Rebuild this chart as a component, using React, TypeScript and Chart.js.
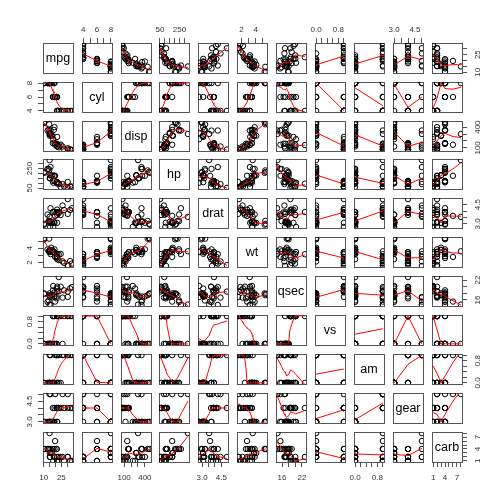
import React, { useEffect, useRef } from 'react';
import { Chart, registerables } from 'chart.js';
Chart.register(...registerables);

// mtcars columns
const mpg = [21.0, 21.0, 22.8, 21.4, 18.7, 18.1, 14.3, 24.4, 22.8, 19.2, 17.8, 16.4, 17.3, 15.2, 10.4, 10.4, 14.7, 32.4, 30.4, 33.9, 21.5, 15.5, 15.2, 13.3, 19.2, 27.3, 26.0, 30.4, 15.8, 19.7, 15.0, 21.4];
const cyl = [6, 6, 4, 6, 8, 6, 8, 4, 4, 6, 6, 8, 8, 8, 8, 8, 8, 4, 4, 4, 4, 8, 8, 8, 8, 4, 4, 4, 8, 6, 8, 4];
const disp = [160, 160, 108, 258, 360, 225, 360, 146.7, 140.8, 167.6, 167.6, 275.8, 275.8, 275.8, 472, 460, 440, 78.7, 75.7, 71.1, 120.1, 318, 304, 350, 400, 79, 120.3, 95.1, 351, 145, 301, 121];
const hp = [110, 110, 93, 110, 175, 105, 245, 62, 95, 123, 123, 180, 180, 180, 205, 215, 230, 66, 52, 65, 97, 150, 150, 245, 175, 66, 91, 113, 264, 175, 335, 109];
const drat = [3.90, 3.90, 3.85, 3.08, 3.15, 2.76, 3.21, 3.69, 3.92, 3.92, 3.92, 3.07, 3.07, 3.07, 2.93, 3.00, 3.23, 4.08, 4.93, 4.22, 3.70, 2.76, 3.15, 3.73, 3.08, 4.08, 4.43, 3.77, 4.22, 3.62, 3.54, 4.11];
const wt = [2.620, 2.875, 2.320, 3.215, 3.440, 3.460, 3.570, 3.190, 3.150, 3.440, 3.440, 4.070, 3.730, 3.780, 5.250, 5.424, 5.345, 2.200, 1.615, 1.835, 2.465, 3.520, 3.435, 3.840, 3.845, 1.935, 2.140, 1.513, 3.170, 2.770, 3.570, 2.780];
const qsec = [16.46, 17.02, 18.61, 19.44, 17.02, 20.22, 15.84, 20.00, 22.90, 18.30, 18.90, 17.40, 17.60, 18.00, 17.98, 17.82, 17.42, 19.47, 18.52, 19.90, 20.01, 16.87, 17.30, 15.41, 17.05, 18.90, 16.70, 16.90, 14.50, 15.50, 14.60, 18.60];
const vs = [0, 0, 1, 1, 0, 1, 0, 1, 1, 1, 1, 0, 0, 0, 0, 0, 0, 1, 1, 1, 1, 0, 0, 0, 0, 1, 0, 1, 0, 0, 0, 1];
const am = [1, 1, 1, 0, 0, 0, 0, 0, 0, 0, 0, 0, 0, 0, 0, 0, 0, 1, 1, 1, 0, 0, 0, 0, 0, 1, 1, 1, 1, 1, 1, 1];
const gear = [4, 4, 4, 3, 3, 3, 3, 4, 4, 4, 4, 3, 3, 3, 3, 3, 3, 4, 4, 4, 3, 3, 3, 3, 3, 4, 5, 5, 5, 5, 5, 4];
const carb = [4, 4, 1, 1, 2, 1, 4, 2, 2, 4, 4, 3, 3, 3, 4, 4, 4, 1, 2, 1, 1, 2, 2, 4, 2, 1, 2, 2, 4, 6, 8, 2];

const varNames = ['mpg', 'cyl', 'disp', 'hp', 'drat', 'wt', 'qsec', 'vs', 'am', 'gear', 'carb'];
const varValues = [mpg, cyl, disp, hp, drat, wt, qsec, vs, am, gear, carb];

// axis ticks and their printed labels
const mpgTicks = [10, 15, 20, 25, 30];
const mpgTickLabels = ['10', '', '', '25', ''];
const cylTicks = [4, 5, 6, 7, 8];
const cylTickLabels = ['4', '', '6', '', '8'];
const dispTicks = [100, 200, 300, 400];
const dispTickLabels = ['100', '', '', '400'];
const hpTicks = [50, 100, 150, 200, 250, 300];
const hpTickLabels = ['50', '', '', '', '250', ''];
const dratTicks = [3, 3.5, 4, 4.5];
const dratTickLabels = ['3.0', '', '', '4.5'];
const wtTicks = [2, 3, 4, 5];
const wtTickLabels = ['2', '', '4', ''];
const qsecTicks = [16, 18, 20, 22];
const qsecTickLabels = ['16', '', '', '22'];
const vsTicks = [0, 0.2, 0.4, 0.6, 0.8, 1];
const vsTickLabels = ['0.0', '', '', '', '0.8', ''];
const amTicks = [0, 0.2, 0.4, 0.6, 0.8, 1];
const amTickLabels = ['0.0', '', '', '', '0.8', ''];
const gearTicks = [3, 3.5, 4, 4.5, 5];
const gearTickLabels = ['3.0', '', '', '4.5', ''];
const carbTicks = [1, 2, 3, 4, 5, 6, 7, 8];
const carbTickLabels = ['1', '', '', '4', '', '', '7', ''];

const varTicks = [mpgTicks, cylTicks, dispTicks, hpTicks, dratTicks, wtTicks, qsecTicks, vsTicks, amTicks, gearTicks, carbTicks];
const varTickLabels = [mpgTickLabels, cylTickLabels, dispTickLabels, hpTickLabels, dratTickLabels, wtTickLabels, qsecTickLabels, vsTickLabels, amTickLabels, gearTickLabels, carbTickLabels];

const FONT = '"Liberation Sans", Arial, Helvetica, sans-serif';
const LINE = '#555';
const TEXT = '#333';
const M = 24; // canvas margin around each panel
const PANEL = 30;
const START = 42.7;
const STEP = 38.9;

// R's lowess (clowess port)
function lowess(xIn: number[], yIn: number[], f = 2 / 3, nsteps = 3) {
  const n = xIn.length;
  const idx = xIn.map((_, i) => i).sort((a, b) => xIn[a] - xIn[b] || a - b);
  const x = [0, ...idx.map((i) => xIn[i])];
  const y = [0, ...idx.map((i) => yIn[i])];
  const delta = 0.01 * (x[n] - x[1]);
  const ys = new Array(n + 1).fill(0);
  const rw = new Array(n + 1).fill(1);
  const w = new Array(n + 1).fill(0);
  const ns = Math.max(2, Math.min(n, Math.floor(f * n + 1e-7)));
  const range = x[n] - x[1];

  const lowest = (xs: number, nleft: number, nright: number, userw: boolean): [boolean, number] => {
    const h = Math.max(xs - x[nleft], x[nright] - xs);
    const h9 = 0.999 * h;
    const h1 = 0.001 * h;
    let a = 0;
    let j = nleft;
    while (j <= n) {
      w[j] = 0;
      const r = Math.abs(x[j] - xs);
      if (r <= h9) {
        if (r <= h1) w[j] = 1;
        else {
          const q = r / h;
          const t = 1 - q * q * q;
          w[j] = t * t * t;
        }
        if (userw) w[j] *= rw[j];
        a += w[j];
      } else if (x[j] > xs) break;
      j++;
    }
    const nrt = j - 1;
    if (a <= 0) return [false, 0];
    for (j = nleft; j <= nrt; j++) w[j] /= a;
    if (h > 0) {
      a = 0;
      for (j = nleft; j <= nrt; j++) a += w[j] * x[j];
      let b = xs - a;
      let c = 0;
      for (j = nleft; j <= nrt; j++) c += w[j] * (x[j] - a) * (x[j] - a);
      if (Math.sqrt(c) > 0.001 * range) {
        b /= c;
        for (j = nleft; j <= nrt; j++) w[j] *= b * (x[j] - a) + 1;
      }
    }
    let s = 0;
    for (j = nleft; j <= nrt; j++) s += w[j] * y[j];
    return [true, s];
  };

  let iter = 1;
  while (iter <= nsteps + 1) {
    let nleft = 1;
    let nright = ns;
    let last = 0;
    let i = 1;
    for (;;) {
      if (nright < n) {
        const d1 = x[i] - x[nleft];
        const d2 = x[nright + 1] - x[i];
        if (d1 > d2) {
          nleft++;
          nright++;
          continue;
        }
      }
      const [ok, val] = lowest(x[i], nleft, nright, iter > 1);
      ys[i] = ok ? val : y[i];
      if (last < i - 1) {
        const denom = x[i] - x[last];
        for (let j = last + 1; j < i; j++) {
          const alpha = (x[j] - x[last]) / denom;
          ys[j] = alpha * ys[i] + (1 - alpha) * ys[last];
        }
      }
      last = i;
      const cut = x[last] + delta;
      for (i = last + 1; i <= n; i++) {
        if (x[i] > cut) break;
        if (x[i] === x[last]) {
          ys[i] = ys[last];
          last = i;
        }
      }
      i = Math.max(last + 1, i - 1);
      if (last >= n) break;
    }
    const resid: number[] = [];
    let sc = 0;
    for (let k = 1; k <= n; k++) {
      resid[k] = y[k] - ys[k];
      sc += Math.abs(resid[k]);
    }
    sc /= n;
    if (iter > nsteps) break;
    const sorted = resid.slice(1).map(Math.abs).sort((a, b) => a - b);
    const m1 = Math.floor(n / 2);
    let cmad;
    if (n % 2 === 0) {
      const m2 = n - m1 - 1;
      cmad = 3 * (sorted[m1] + sorted[m2]);
    } else cmad = 6 * sorted[m1];
    if (cmad < 1e-7 * sc) break;
    const c9 = 0.999 * cmad;
    const c1 = 0.001 * cmad;
    for (let k = 1; k <= n; k++) {
      const r = Math.abs(resid[k]);
      if (r <= c1) rw[k] = 1;
      else if (r <= c9) {
        const t = 1 - (r / cmad) * (r / cmad);
        rw[k] = t * t;
      } else rw[k] = 0;
    }
    iter++;
  }
  return x.slice(1).map((xv, k) => ({ x: xv, y: ys[k + 1] }));
}

function extRange(v: number[]) {
  const lo = Math.min(...v);
  const hi = Math.max(...v);
  const d = (hi - lo) * 0.04;
  return [lo - d, hi + d];
}

function Panel({ row, col }: { row: number; col: number }) {
  const ref = useRef<HTMLCanvasElement>(null);
  useEffect(() => {
    const canvas = ref.current;
    if (!canvas) return;
    const xv = varValues[col];
    const yv = varValues[row];
    const [xmin, xmax] = extRange(xv);
    const [ymin, ymax] = extRange(yv);
    const showTop = row === 0 && col % 2 === 1;
    const showBottom = row === 10 && col % 2 === 0;
    const showLeft = col === 0 && row % 2 === 1;
    const showRight = col === 10 && row % 2 === 0;
    const diag = row === col;

    const datasets: any[] = [];
    if (!diag) {
      datasets.push({
        data: xv.map((v, i) => ({ x: v, y: yv[i] })),
        xAxisID: 'x',
        yAxisID: 'y',
        showLine: false,
        pointRadius: 2.7,
        pointBorderWidth: 1,
        pointBorderColor: '#000',
        pointBackgroundColor: 'rgba(0,0,0,0)',
        clip: 0,
        order: 2,
      });
      datasets.push({
        data: lowess(xv, yv),
        xAxisID: 'x',
        yAxisID: 'y',
        showLine: true,
        borderColor: '#ff0000',
        borderWidth: 1,
        pointRadius: 0,
        tension: 0,
        fill: false,
        clip: 0,
        order: 1,
      });
    }

    const xScale = (pos: 'top' | 'bottom', show: boolean) => ({
      type: 'linear',
      axis: 'x',
      position: pos,
      min: xmin,
      max: xmax,
      afterBuildTicks: (s: any) => {
        s.ticks = varTicks[col].map((v) => ({ value: v }));
      },
      afterFit: (s: any) => {
        s.height = M;
      },
      ticks: {
        display: show,
        autoSkip: false,
        maxRotation: 0,
        minRotation: 0,
        padding: pos === 'top' ? 3.5 : 5.5,
        color: TEXT,
        font: { size: 8, family: FONT },
        callback: (_v: any, i: number) => varTickLabels[col][i] ?? '',
      },
      grid: { display: show, drawOnChartArea: false, drawTicks: true, tickLength: 5, color: LINE, lineWidth: 1 },
      border: { display: true, color: LINE, width: 1 },
    });
    const yScale = (pos: 'left' | 'right', show: boolean) => ({
      type: 'linear',
      axis: 'y',
      position: pos,
      min: ymin,
      max: ymax,
      afterBuildTicks: (s: any) => {
        s.ticks = varTicks[row].map((v) => ({ value: v }));
      },
      afterFit: (s: any) => {
        s.width = M;
      },
      ticks: { display: false },
      grid: { display: show, drawOnChartArea: false, drawTicks: true, tickLength: 5, color: LINE, lineWidth: 1 },
      border: { display: true, color: LINE, width: 1 },
    });

    const textPlugin = {
      id: 'pairsText',
      afterDraw: (chart: any) => {
        const ctx = chart.ctx;
        const area = chart.chartArea;
        ctx.save();
        if (diag) {
          ctx.fillStyle = '#000';
          ctx.font = `12.5px ${FONT}`;
          ctx.textAlign = 'center';
          ctx.textBaseline = 'middle';
          ctx.fillText(varNames[row], (area.left + area.right) / 2, (area.top + area.bottom) / 2 + 0.5);
        }
        const drawY = (scale: any, dist: number) => {
          ctx.fillStyle = TEXT;
          ctx.font = `8px ${FONT}`;
          ctx.textAlign = 'center';
          ctx.textBaseline = 'middle';
          varTicks[row].forEach((v, i) => {
            const lab = varTickLabels[row][i];
            if (!lab) return;
            const py = scale.getPixelForValue(v);
            ctx.save();
            ctx.translate(dist, py);
            ctx.rotate(-Math.PI / 2);
            ctx.fillText(lab, 0, 0);
            ctx.restore();
          });
        };
        if (showLeft) drawY(chart.scales.y, area.left - 13.3);
        if (showRight) drawY(chart.scales.yRight, area.right + 15.3);
        ctx.restore();
      },
    };

    const chart = new Chart(canvas, {
      type: 'scatter',
      data: { datasets },
      options: {
        animation: false,
        responsive: false,
        maintainAspectRatio: false,
        devicePixelRatio: 1,
        events: [],
        layout: { padding: 0 },
        plugins: { legend: { display: false }, tooltip: { enabled: false } },
        scales: {
          x: xScale('bottom', showBottom),
          xTop: xScale('top', showTop),
          y: yScale('left', showLeft),
          yRight: yScale('right', showRight),
        } as any,
      },
      plugins: [textPlugin],
    } as any);
    return () => chart.destroy();
  }, [row, col]);

  const left = Math.round(START + col * STEP) - M;
  const top = Math.round(START + row * STEP) - M;
  const size = PANEL + 2 * M;
  return (
    <canvas
      ref={ref}
      width={size}
      height={size}
      style={{ position: 'absolute', left, top, width: size, height: size, display: 'block' }}
    />
  );
}

export default function App() {
  const cells = [];
  for (let r = 0; r < 11; r++) {
    for (let c = 0; c < 11; c++) {
      cells.push(<Panel key={`${r}-${c}`} row={r} col={c} />);
    }
  }
  return (
    <div style={{ position: 'absolute', left: 0, top: 0, width: 504, height: 504, background: '#fff', overflow: 'hidden' }}>
      {cells}
    </div>
  );
}
